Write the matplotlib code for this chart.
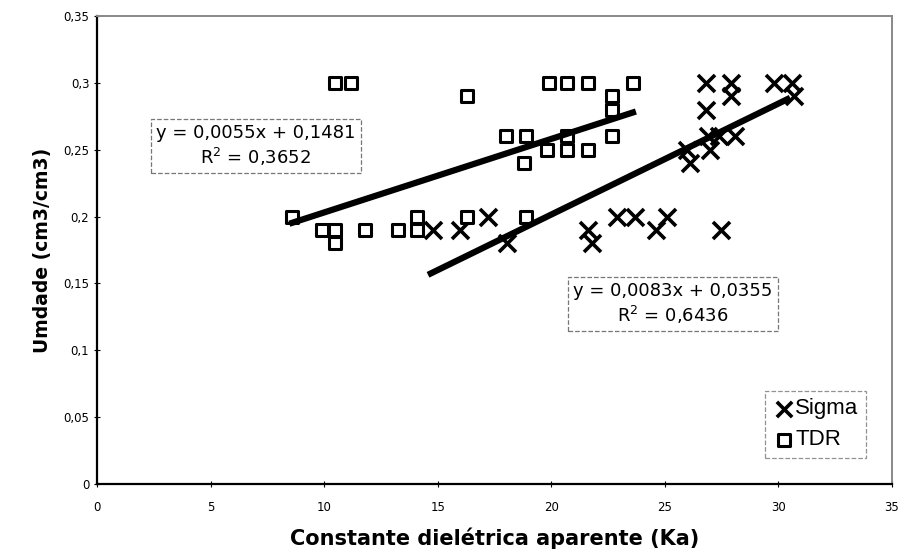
import numpy as np
import matplotlib.pyplot as plt

# Sigma readings (Ka, umidade)
sigma_ka = [14.8, 16.0, 17.2, 18.05, 21.6, 21.8, 22.9, 23.7, 24.6, 25.1, 27.5,
            26.8, 27.9, 27.9, 26.8, 29.8, 30.6, 30.7,
            26.9, 27.4, 28.1, 26.0, 27.0, 26.1]
sigma_um = [0.19, 0.19, 0.20, 0.18, 0.19, 0.18, 0.20, 0.20, 0.19, 0.20, 0.19,
            0.30, 0.30, 0.29, 0.28, 0.30, 0.30, 0.29,
            0.26, 0.26, 0.26, 0.25, 0.25, 0.24]

# TDR readings
tdr_ka = [8.6, 9.9, 10.5, 10.5, 11.8, 13.25, 14.1, 14.1, 16.3,
          10.5, 11.2, 16.3, 18.0, 19.9, 20.7, 21.6, 23.6,
          22.7, 22.7, 22.7, 18.9, 18.8, 19.8, 20.7, 20.7, 21.6, 18.9]
tdr_um = [0.20, 0.19, 0.19, 0.18, 0.19, 0.19, 0.19, 0.20, 0.20,
          0.30, 0.30, 0.29, 0.26, 0.30, 0.30, 0.30, 0.30,
          0.29, 0.28, 0.26, 0.26, 0.24, 0.25, 0.26, 0.25, 0.25, 0.20]

# trend line coefficients (slope, intercept) as printed on the chart
sigma_fit = (0.0083, 0.0355)
tdr_fit = (0.0055, 0.1481)
sigma_label = 'y = 0,0083x + 0,0355\n$\\mathregular{R^2}$ = 0,6436'
tdr_label = 'y = 0,0055x + 0,1481\n$\\mathregular{R^2}$ = 0,3652'

fig = plt.figure(figsize=(9.1, 5.58), dpi=100)
ax = fig.add_axes([0.1066, 0.1326, 0.8734, 0.8386])

ax.scatter(sigma_ka, sigma_um, marker='x', s=150, c='black', linewidths=2.6,
           label='Sigma', zorder=3)
ax.scatter(tdr_ka, tdr_um, marker='s', s=80, facecolors='white',
           edgecolors='black', linewidths=2.2, label='TDR', zorder=3)

# trend lines
xs = np.array([min(sigma_ka) - 0.1, max(sigma_ka) - 0.3])
ax.plot(xs, sigma_fit[0] * xs + sigma_fit[1], color='black', lw=4.5, zorder=4)
xt = np.array([min(tdr_ka), max(tdr_ka)])
ax.plot(xt, tdr_fit[0] * xt + tdr_fit[1], color='black', lw=4.5, zorder=4)

box = dict(boxstyle='square,pad=0.3', facecolor='white', edgecolor='#777777',
           lw=0.9, linestyle='--')
ax.text(7.0, 0.2527, tdr_label, ha='center', va='center', fontsize=13,
        multialignment='center', bbox=box, zorder=5)
ax.text(25.36, 0.1346, sigma_label, ha='center', va='center', fontsize=13,
        multialignment='center', bbox=box, zorder=5)

ax.set_xlim(0, 35)
ax.set_ylim(0, 0.35)
ax.set_xticks(np.arange(0, 36, 5))
ax.set_yticks(np.arange(0, 0.351, 0.05))
ax.set_yticklabels(['0', '0,05', '0,1', '0,15', '0,2', '0,25', '0,3', '0,35'])
ax.tick_params(labelsize=8.5, length=4, direction='inout')
ax.tick_params(axis='x', pad=10)

for s in ['left', 'bottom']:
    ax.spines[s].set_linewidth(1.6)
for s in ['top', 'right']:
    ax.spines[s].set_color('#888888')
    ax.spines[s].set_linewidth(1.4)

ax.set_xlabel('Constante dielétrica aparente (Ka)', fontsize=15,
              fontweight='bold', labelpad=10)
ax.set_ylabel('Umdade (cm3/cm3)', fontsize=13.5, fontweight='bold', labelpad=8)

leg = ax.legend(loc='lower right', bbox_to_anchor=(0.968, 0.055),
                frameon=True, fancybox=False, handletextpad=0.0,
                borderpad=0.35, labelspacing=0.45, handlelength=1.0,
                borderaxespad=0.0, markerscale=0.9,
                prop={'family': 'Liberation Sans', 'size': 16})
leg.get_frame().set_edgecolor('#777777')
leg.get_frame().set_linestyle('--')
leg.get_frame().set_linewidth(0.9)

plt.savefig('out.png')
